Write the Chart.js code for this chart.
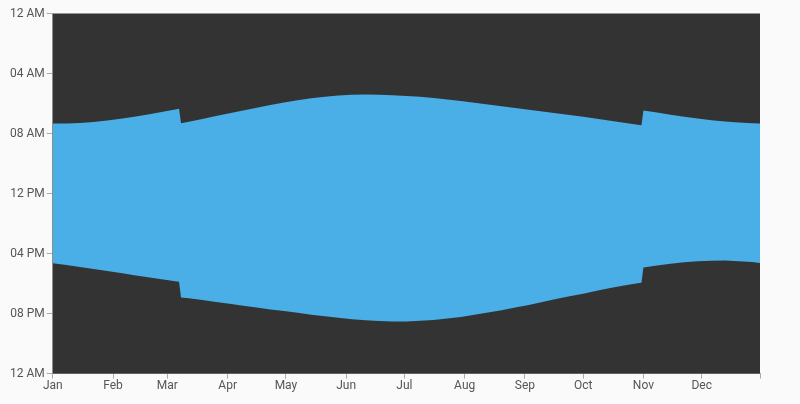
<!DOCTYPE html>
<html>
<head>
<meta charset="utf-8">
<script src="https://cdn.jsdelivr.net/npm/chart.js@4"></script>
<style>
  html, body { margin: 0; padding: 0; background: #fafafa; }
  #box { width: 800px; height: 404px; }
</style>
</head>
<body>
<div id="box"><canvas id="daylightChart"></canvas></div>
<script>
// day of year (Jan 1 = 0), roughly weekly, plus the days either side of the clock changes
var days    = [0, 7, 14, 21, 28, 35, 42, 49, 56, 63, 65,
               66, 70, 77, 84, 91, 98, 105, 112, 119, 126, 133, 140, 147, 154, 161, 168, 175, 182,
               189, 196, 203, 210, 217, 224, 231, 238, 245, 252, 259, 266, 273, 280, 287, 294, 301, 303,
               304, 311, 318, 325, 332, 339, 346, 353, 360, 364];
// sunrise / sunset, hours after midnight (local clock time)
var sunrise = [7.33, 7.33, 7.30, 7.23, 7.13, 7.02, 6.88, 6.73, 6.57, 6.40, 6.35,
               7.32, 7.22, 7.03, 6.83, 6.65, 6.47, 6.28, 6.10, 5.93, 5.78, 5.65, 5.55, 5.47, 5.42, 5.40, 5.42, 5.45, 5.50,
               5.55, 5.63, 5.73, 5.83, 5.95, 6.07, 6.18, 6.30, 6.42, 6.53, 6.65, 6.77, 6.88, 7.02, 7.15, 7.28, 7.42, 7.45,
               6.47, 6.60, 6.75, 6.88, 7.00, 7.12, 7.20, 7.27, 7.32, 7.33];
var sunset  = [16.65, 16.77, 16.90, 17.03, 17.17, 17.30, 17.45, 17.58, 17.72, 17.85, 17.88,
               18.92, 18.98, 19.10, 19.22, 19.35, 19.47, 19.60, 19.72, 19.83, 19.95, 20.07, 20.18, 20.28, 20.38, 20.45, 20.50, 20.52, 20.52,
               20.48, 20.42, 20.33, 20.22, 20.08, 19.93, 19.77, 19.60, 19.42, 19.23, 19.03, 18.85, 18.67, 18.48, 18.30, 18.13, 17.98, 17.95,
               16.93, 16.80, 16.68, 16.58, 16.52, 16.48, 16.47, 16.52, 16.57, 16.63];

var monthStarts = [0, 31, 59, 90, 120, 151, 181, 212, 243, 273, 304, 334];
var monthLabels = ["Jan", "Feb", "Mar", "Apr", "May", "Jun", "Jul", "Aug", "Sep", "Oct", "Nov", "Dec"];
var lastDay     = 364;
var hourTicks   = [0, 4, 8, 12, 16, 20, 24];
var hourLabels  = ["12 AM", "04 AM", "08 AM", "12 PM", "04 PM", "08 PM", "12 AM"];

function toPoints(values)
{
    var pts = [];
    for (var i = 0; i < days.length; i++)
    {
        pts.push({x: days[i], y: values[i]});
    }
    return pts;
}

var plotBackground = {
    id: 'plotBackground',
    beforeDatasetsDraw: function (chart) {
        var a = chart.chartArea;
        var ctx = chart.ctx;
        ctx.save();
        ctx.fillStyle = '#333333';
        ctx.fillRect(a.left, a.top, a.right - a.left, a.bottom - a.top);
        ctx.restore();
    }
};

Chart.defaults.font.family = 'Roboto, "Noto Sans", sans-serif';
Chart.defaults.font.size = 12;
Chart.defaults.color = '#555';

var daylightChart = new Chart(document.getElementById('daylightChart'), {
    type: 'line',
    data: {
        datasets: [{
            label: 'Sunrise',
            data: toPoints(sunrise),
            borderWidth: 0,
            pointRadius: 0,
            fill: false,
            tension: 0
        },
        {
            label: 'Sunset',
            data: toPoints(sunset),
            borderWidth: 0,
            pointRadius: 0,
            fill: '-1',
            backgroundColor: '#4aafe6',
            tension: 0
        }]
    },
    options: {
        responsive: true,
        maintainAspectRatio: false,
        animation: false,
        layout: {
            padding: {top: 13.5, right: 40, bottom: 11, left: 8}
        },
        plugins: {
            legend: {display: false},
            tooltip: {enabled: false}
        },
        scales: {
            x: {
                type: 'linear',
                min: 0,
                max: lastDay,
                afterBuildTicks: function (axis) {
                    axis.ticks = monthStarts.map(function (d) { return {value: d}; }).concat([{value: lastDay}]);
                },
                ticks: {
                    autoSkip: false,
                    maxRotation: 0,
                    padding: 0,
                    callback: function (value) {
                        var i = monthStarts.indexOf(value);
                        return i >= 0 ? monthLabels[i] : '';
                    }
                },
                grid: {drawOnChartArea: false, drawTicks: true, tickLength: 5, color: '#aaa'},
                border: {display: true, color: '#aaa'}
            },
            y: {
                reverse: true,
                min: 0,
                max: 24,
                afterBuildTicks: function (axis) {
                    axis.ticks = hourTicks.map(function (h) { return {value: h}; });
                },
                ticks: {
                    padding: 2,
                    callback: function (value) {
                        return hourLabels[hourTicks.indexOf(value)];
                    }
                },
                grid: {drawOnChartArea: false, drawTicks: true, tickLength: 6, color: '#aaa'},
                border: {display: true, color: '#aaa'}
            }
        }
    },
    plugins: [plotBackground]
});
</script>
</body>
</html>
